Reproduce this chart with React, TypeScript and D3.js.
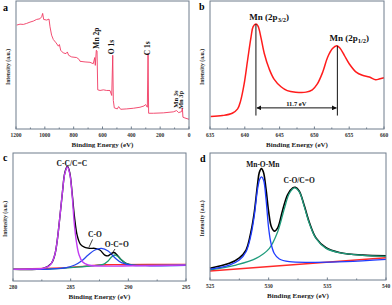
import * as d3 from "d3";
import type { ReactNode } from "react";

const FONT = "'Liberation Serif', 'Times New Roman', serif";
const AXIS_COLOR = "#6f7d8c";

// ---- (a) survey spectrum ----
const SURVEY_EV = [1195, 1172, 1149, 1126, 1103, 1080, 1057, 1034, 1022, 1015, 1008, 987, 971, 964, 953, 941, 922, 906, 899, 890, 872, 853, 844, 835, 814, 779, 761, 756, 721, 687, 664, 654, 650, 643, 638, 633, 617, 594, 571, 548, 536, 529, 525, 518, 497, 488, 474, 432, 386, 340, 312, 301, 289, 284, 280, 247, 178, 109, 86, 72, 51, 46, 42, 28, 0];
const SURVEY_I = [81.2, 81.9, 81.7, 82.5, 83.5, 84.3, 85.6, 86.1, 87.7, 90.3, 85.6, 85.1, 85.9, 79.8, 73.3, 69.9, 67.3, 64.7, 66, 61.5, 59.4, 58.9, 60.2, 57.6, 56.3, 55.8, 54.2, 52.9, 52.4, 52.1, 51, 55.8, 49.7, 61.5, 61, 30.6, 30.1, 30.6, 30.1, 30.1, 26.2, 57.6, 22.3, 16.5, 15.7, 17.5, 15.4, 15.7, 16.2, 17, 18, 19.1, 17, 58.9, 12.3, 12.3, 12.6, 13.4, 14.4, 12.8, 13.6, 16.5, 9.2, 8.6, 7.6];
const SURVEY_TICKS = [1200, 1000, 800, 600, 400, 200, 0];
const SURVEY_LABELS = ["Mn 2p", "O 1s", "C 1s", "Mn 3s", "Mn 3p"];
const SURVEY_LABEL_EV = [623, 520, 270, 75, 40];
const SURVEY_LABEL_I = [71, 64, 63, 23.4, 22.7];
const SURVEY_LABEL_SIZE = [7.5, 7.5, 7.5, 6.5, 6.5];

// ---- (b) Mn 2p ----
const MN_EV = [635.1, 636.8, 638.2, 638.97, 639.4, 639.9, 640.4, 640.9, 641.2, 641.6, 641.9, 642.3, 642.8, 643.5, 644.2, 645.2, 646.1, 647.3, 648.8, 649.7, 650.4, 651.2, 651.9, 652.6, 653.2, 653.6, 654.3, 655, 656, 656.9, 657.9, 658.8, 659.3, 660];
const MN_I = [9.7, 10.5, 12.3, 15.7, 22, 35, 53.7, 72, 80, 82, 80.4, 72, 59, 47, 39, 33, 30, 28.8, 28.8, 30.6, 35, 44.5, 56, 62.8, 65, 63.6, 57.6, 51, 44.5, 42, 40.6, 38.5, 39, 40];
const MN_TICKS = [635, 640, 645, 650, 655, 660];
const MN_PEAK_EV = [641.6, 653.3];
const MN_PEAK_I = [82, 65];
const MN_SPLIT = "11.7 eV";

// ---- (c) C 1s ----
const C_ENV_EV = [280, 282.61, 283.33, 283.62, 283.82, 284.05, 284.29, 284.49, 284.72, 284.92, 285.13, 285.33, 285.56, 285.85, 286.23, 286.66, 287.1, 287.53, 287.96, 288.25, 288.54, 288.77, 289.03, 289.41, 289.85, 290.43, 295];
const C_ENV_I = [9.1, 9.9, 13.8, 20.3, 30.6, 48.8, 69.6, 84.4, 89.6, 84.7, 68.3, 50.1, 35.8, 28.6, 26.2, 25.5, 25.5, 24.2, 20.3, 19.7, 21.6, 22.3, 20.3, 16.4, 13.5, 12.5, 12.7];
const C_CC_EV = [280, 281.74, 282.61, 283.04, 283.33, 283.62, 283.82, 284.05, 284.29, 284.49, 284.72, 284.92, 285.13, 285.3, 285.5, 285.73, 286.02, 286.52, 287.53, 290.43, 295];
const C_CC_I = [9.1, 9.35, 9.9, 11.2, 13.8, 20.3, 30.6, 48.8, 69.6, 83.9, 89.1, 83.9, 67, 46.2, 30.6, 20.3, 15.1, 12.5, 11.7, 11.9, 12.5];
const C_CO_EV = [280, 283.19, 284.63, 285.36, 285.94, 286.52, 287.1, 287.67, 288.25, 288.83, 289.41, 290.14, 291.87, 295];
const C_CO_I = [9.1, 9.35, 10.4, 12.5, 15.6, 20.3, 24.2, 25.5, 23.4, 18.2, 14.3, 12.5, 11.9, 12.2];
const C_OCO_EV = [280, 283.19, 285.21, 286.95, 287.82, 288.25, 288.54, 288.83, 289.12, 289.41, 289.79, 290.28, 291.87, 295];
const C_OCO_I = [9.1, 9.35, 10.6, 11.9, 13, 15.6, 18.7, 20.3, 19, 16.4, 13.8, 12.5, 12.2, 12.5];
const C_BG_EV = [280, 284.63, 286.37, 288.11, 295];
const C_BG_I = [9.35, 10.4, 11.7, 12.7, 12.9];
const C_TICKS = [280, 285, 290, 295];

// ---- (d) O 1s ----
const O_ENV_EV = [525, 526.65, 527.5, 528.07, 528.49, 528.78, 529.06, 529.2, 529.38, 529.55, 529.77, 530, 530.23, 530.48, 530.77, 531.19, 531.62, 532.05, 532.27, 532.61, 533.04, 533.47, 534.03, 534.89, 536.02, 538.01, 540];
const O_ENV_I = [9.2, 13.1, 17.5, 23.6, 38, 53.7, 75.9, 84.6, 87.7, 85.1, 72, 53.7, 41.9, 38.5, 41.1, 55, 67.3, 72.5, 73, 69.9, 58.4, 45.3, 33.2, 25.4, 21.7, 19.6, 19.1];
const O_MN_EV = [525, 526.65, 527.5, 528.07, 528.49, 528.78, 529.06, 529.26, 529.4, 529.57, 529.77, 530, 530.2, 530.48, 530.91, 531.76, 533.75, 536.59, 540];
const O_MN_I = [8.6, 11.8, 15.7, 22.3, 35.3, 51, 72, 79.8, 81.2, 78.5, 64.1, 40.6, 28.8, 20.9, 16.5, 14.4, 13.9, 14.4, 16.2];
const O_CO_EV = [525, 527.22, 528.92, 530.06, 530.77, 531.34, 531.76, 532.19, 532.61, 533.04, 533.47, 534.03, 534.89, 536.02, 538.01, 540];
const O_CO_I = [7.9, 11.8, 17, 24.9, 38, 56.3, 68.1, 72.5, 69.4, 57.6, 44.5, 32.7, 24.9, 21.5, 19.4, 18.6];
const O_BG_EV = [525, 540];
const O_BG_I = [7.1, 17.5];
const O_TICKS = [525, 530, 535, 540];

type Box = { left: number; right: number; top: number; bottom: number };
type Sc = d3.ScaleLinear<number, number>;

function path(x: Sc, y: Sc, xs: number[], ys: number[], curve: d3.CurveFactory = d3.curveCatmullRom.alpha(0.5)) {
  const pts = xs.map((v, i) => [v, ys[i]] as [number, number]);
  return d3.line<[number, number]>().x((d) => x(d[0])).y((d) => y(d[1])).curve(curve)(pts) || "";
}

function Panel({ box, domain, ticks, letter, children }: {
  box: Box; domain: [number, number]; ticks: number[]; letter: [string, number, number];
  children: (x: Sc, y: Sc) => ReactNode;
}) {
  const x = d3.scaleLinear().domain(domain).range([box.left, box.right]);
  const y = d3.scaleLinear().domain([0, 100]).range([box.bottom, box.top]);
  const step = ticks[1] - ticks[0];
  const minor = ticks.slice(0, -1).map((t) => t + step / 2);
  const midY = (box.top + box.bottom) / 2 + 2;
  return (
    <g>
      <text x={letter[1]} y={letter[2]} fontSize={10} fontWeight="bold" fontFamily={FONT}>{letter[0]}</text>
      {children(x, y)}
      <rect x={box.left} y={box.top} width={box.right - box.left} height={box.bottom - box.top}
        fill="none" stroke={AXIS_COLOR} strokeWidth={1} />
      {ticks.map((t) => (
        <g key={t}>
          <line x1={x(t)} x2={x(t)} y1={box.bottom} y2={box.bottom - 2.5} stroke={AXIS_COLOR} />
          <text x={x(t)} y={box.bottom + 8} fontSize={5.5} fontWeight="bold" textAnchor="middle"
            fontFamily={FONT} fill="#333">{t}</text>
        </g>
      ))}
      {minor.map((t) => (
        <line key={t} x1={x(t)} x2={x(t)} y1={box.bottom} y2={box.bottom - 1.5} stroke={AXIS_COLOR} />
      ))}
      <text x={(box.left + box.right) / 2} y={box.bottom + 18} fontSize={7} fontWeight="bold"
        textAnchor="middle" fontFamily={FONT} fill="#222">Binding Energy (eV)</text>
      <text transform={`translate(${box.left - 6},${midY}) rotate(-90)`} fontSize={5.8} fontWeight="bold"
        textAnchor="middle" fontFamily={FONT} fill="#222">Intensity (a.u.)</text>
    </g>
  );
}

const BOX_A: Box = { left: 16, right: 189, top: 1, bottom: 129 };
const BOX_B: Box = { left: 210, right: 384, top: 1, bottom: 129 };
const BOX_C: Box = { left: 13, right: 186, top: 153, bottom: 281 };
const BOX_D: Box = { left: 210, right: 386, top: 153, bottom: 280 };

export default function App() {
  const label = { fontFamily: FONT, fontWeight: "bold" as const, fill: "#111" };
  return (
    <svg width={392} height={305} style={{ position: "absolute", left: 0, top: 0, background: "#fff" }}>
      <Panel box={BOX_A} domain={[1200, 0]} ticks={SURVEY_TICKS} letter={["a", 3, 11]}>
        {(x, y) => (
          <g>
            <path d={path(x, y, SURVEY_EV, SURVEY_I, d3.curveLinear)} fill="none" stroke="#f03a62" strokeWidth={0.9} />
            {SURVEY_LABELS.map((s, i) => (
              <text key={s} transform={`translate(${x(SURVEY_LABEL_EV[i])},${y(SURVEY_LABEL_I[i])}) rotate(-90)`}
                fontSize={SURVEY_LABEL_SIZE[i]} textAnchor="middle" {...label}>{s}</text>
            ))}
          </g>
        )}
      </Panel>

      <Panel box={BOX_B} domain={[635, 660]} ticks={MN_TICKS} letter={["b", 199, 10]}>
        {(x, y) => {
          const base = 10.5;
          const arrowY = y(16.5);
          const xa = x(MN_PEAK_EV[0]);
          const xb = x(MN_PEAK_EV[1]);
          return (
            <g>
              <defs>
                <marker id="arr" viewBox="0 0 10 10" refX={9} refY={5} markerWidth={5} markerHeight={5} orient="auto-start-reverse">
                  <path d="M0,0 L10,5 L0,10 z" fill="#111" />
                </marker>
              </defs>
              <path d={path(x, y, MN_EV, MN_I)} fill="none" stroke="#ff1c1c" strokeWidth={1.5} />
              {MN_PEAK_EV.map((e, i) => (
                <line key={e} x1={x(e)} x2={x(e)} y1={y(MN_PEAK_I[i])} y2={y(base)} stroke="#111" strokeWidth={1} />
              ))}
              <line x1={xa + 1} x2={xb - 1} y1={arrowY} y2={arrowY} stroke="#111" strokeWidth={1}
                markerStart="url(#arr)" markerEnd="url(#arr)" />
              <text x={x(647.4)} y={y(18)} fontSize={6.5} textAnchor="middle" {...label}>{MN_SPLIT}</text>
              <text x={x(643.5)} y={y(85)} fontSize={9} textAnchor="middle" {...label}>
                Mn (2p<tspan fontSize={6.5} dy={2}>3/2</tspan><tspan dy={-2}>)</tspan>
              </text>
              <text x={x(655)} y={y(68.75)} fontSize={9} textAnchor="middle" {...label}>
                Mn (2p<tspan fontSize={6.5} dy={2}>1/2</tspan><tspan dy={-2}>)</tspan>
              </text>
            </g>
          );
        }}
      </Panel>

      <Panel box={BOX_C} domain={[280, 295]} ticks={C_TICKS} letter={["c", 3, 161]}>
        {(x, y) => (
          <g>
            <path d={path(x, y, C_ENV_EV, C_ENV_I)} fill="none" stroke="#000" strokeWidth={1.4} />
            <path d={path(x, y, C_BG_EV, C_BG_I)} fill="none" stroke="#ff2a2a" strokeWidth={1.3} />
            <path d={path(x, y, C_OCO_EV, C_OCO_I)} fill="none" stroke="#1f9c72" strokeWidth={1.3} />
            <path d={path(x, y, C_CO_EV, C_CO_I)} fill="none" stroke="#2446ee" strokeWidth={1.3} />
            <path d={path(x, y, C_CC_EV, C_CC_I)} fill="none" stroke="#c23cf2" strokeWidth={1.4} />
            <text x={x(285.1)} y={y(90)} fontSize={7.5} textAnchor="middle" {...label}>C-C/C=C</text>
            <text x={x(287.1)} y={y(34.4)} fontSize={7.5} textAnchor="middle" {...label}>C-O</text>
            <line x1={x(286.9)} y1={y(32.5)} x2={x(286.6)} y2={y(26.6)} stroke="#111" strokeWidth={0.8} />
            <text x={x(289.0)} y={y(26.6)} fontSize={7.5} textAnchor="middle" {...label}>O-C=O</text>
            <line x1={x(288.84)} y1={y(25)} x2={x(288.5)} y2={y(20.3)} stroke="#111" strokeWidth={0.8} />
          </g>
        )}
      </Panel>

      <Panel box={BOX_D} domain={[525, 540]} ticks={O_TICKS} letter={["d", 200, 162]}>
        {(x, y) => (
          <g>
            <path d={path(x, y, O_ENV_EV, O_ENV_I)} fill="none" stroke="#000" strokeWidth={1.6} />
            <path d={path(x, y, O_BG_EV, O_BG_I, d3.curveLinear)} fill="none" stroke="#ff2a2a" strokeWidth={1.4} />
            <path d={path(x, y, O_CO_EV, O_CO_I)} fill="none" stroke="#1f9c7c" strokeWidth={1.3} />
            <path d={path(x, y, O_MN_EV, O_MN_I)} fill="none" stroke="#1f3cff" strokeWidth={1.3} />
            <text x={x(529.5)} y={y(89)} fontSize={7.5} textAnchor="middle" {...label}>Mn-O-Mn</text>
            <text x={x(532.6)} y={y(76.4)} fontSize={7.5} textAnchor="middle" {...label}>C-O/C=O</text>
          </g>
        )}
      </Panel>
    </svg>
  );
}
